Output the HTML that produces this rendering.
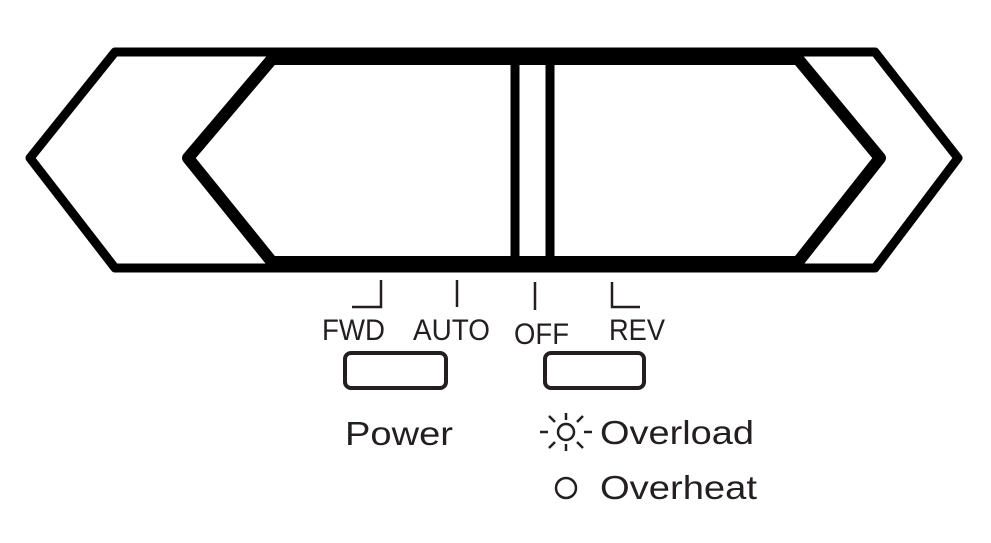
<!DOCTYPE html>
<html><head><style>
html,body{margin:0;padding:0;background:#fff;width:991px;height:543px;overflow:hidden}
svg{display:block}
text{font-family:"Liberation Sans",sans-serif;fill:#231f20}
</style></head><body>
<svg width="991" height="543" viewBox="0 0 991 543">
<g fill="none" stroke="#000" stroke-linejoin="round">
<polygon points="115,52 875,52 958,158 875,268 115,268 30,158" stroke-width="9"/>
<polygon points="272,59 798,59 880,158 798,262 272,262 188,158" stroke-width="12"/>
<line x1="272" y1="55" x2="798" y2="55" stroke-width="10"/>
<line x1="272" y1="265" x2="798" y2="265" stroke-width="8"/>
<line x1="515" y1="58" x2="515" y2="265" stroke-width="9"/>
<line x1="550" y1="58" x2="550" y2="265" stroke-width="9"/>
</g>
<g stroke="#231f20" stroke-width="2.5" fill="none">
<polyline points="352,307 381,307 381,280"/>
<line x1="457" y1="280" x2="457" y2="307"/>
<line x1="535" y1="282" x2="535" y2="310"/>
<polyline points="612,282 612,307 640,307"/>
</g>
<g font-size="30">
<text x="322" y="340" textLength="63" lengthAdjust="spacingAndGlyphs">FWD</text>
<text x="413" y="340" textLength="77" lengthAdjust="spacingAndGlyphs">AUTO</text>
<text x="514" y="344" textLength="55" lengthAdjust="spacingAndGlyphs">OFF</text>
<text x="609" y="340" textLength="56" lengthAdjust="spacingAndGlyphs">REV</text>
</g>
<g fill="none" stroke="#231f20" stroke-width="4">
<rect x="345" y="353" width="101" height="35" rx="6"/>
<rect x="545" y="353" width="99" height="35" rx="6"/>
</g>
<text x="345" y="445" font-size="33" textLength="108" lengthAdjust="spacingAndGlyphs">Power</text>
<g stroke="#231f20" stroke-width="2.5" fill="none">
<circle cx="566" cy="432" r="8"/>
<line x1="566" y1="413" x2="566" y2="420"/><line x1="566" y1="444" x2="566" y2="451"/>
<line x1="540" y1="432" x2="548" y2="432"/><line x1="584" y1="432" x2="592" y2="432"/>
<line x1="549" y1="416" x2="555" y2="422"/><line x1="577" y1="442" x2="583" y2="448"/>
<line x1="583" y1="416" x2="577" y2="422"/><line x1="555" y1="442" x2="549" y2="448"/>
<circle cx="566" cy="488" r="10"/>
</g>
<text x="600" y="444" font-size="33" textLength="154" lengthAdjust="spacingAndGlyphs">Overload</text>
<text x="600" y="499" font-size="33" textLength="157" lengthAdjust="spacingAndGlyphs">Overheat</text>
</svg>
</body></html>
